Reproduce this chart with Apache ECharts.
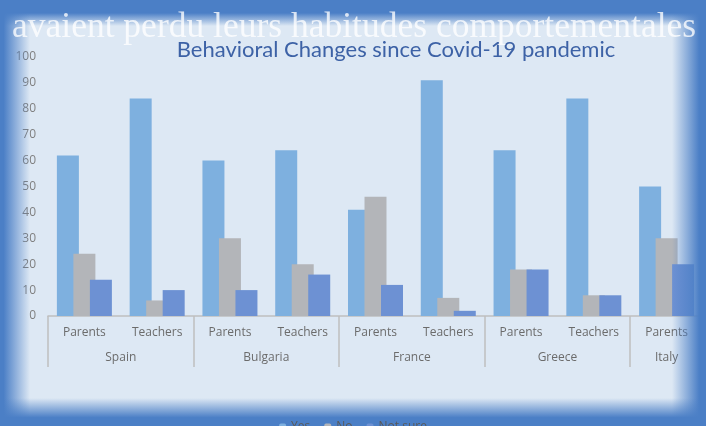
<!DOCTYPE html>
<html><head><meta charset="utf-8">
<script src="https://cdn.jsdelivr.net/npm/echarts@6/dist/echarts.min.js"></script>
<style>html,body{margin:0;padding:0;background:#dde8f4;overflow:hidden}#c{width:706px;height:426px}</style>
</head><body><div id="c"></div>
<script>
const categories = ['Parents','Teachers','Parents','Teachers','Parents','Teachers','Parents','Teachers','Parents'];
const countries = ['Spain','Bulgaria','France','Greece','Italy'];
const countrySizes = [2,2,2,2,1];
const yesValues = [62,84,60,64,41,91,64,84,50];
const noValues = [24,6,30,20,46,7,18,8,30];
const notSureValues = [14,10,10,16,12,2,18,8,20];
const seriesNames = ['Yes','No','Not sure'];
const yTicks = [0,10,20,30,40,50,60,70,80,90,100];

// build half-slot axis for group labels
const slots = new Array(categories.length*2+1).fill('');
const bounds = [0];
let s = 0;
countries.forEach((c,i)=>{ slots[s*2+countrySizes[i]] = c; s += countrySizes[i]; bounds.push(s*2); });

const blue = '#4b7fc6';
const clear = 'rgba(75,127,198,0)';
const chart = echarts.init(document.getElementById('c'));
chart.setOption({
  backgroundColor:'#dde8f4',
  animation:false,
  title:{text:'Behavioral Changes since Covid-19 pandemic',left:391,textAlign:'center',top:34,
    textStyle:{color:'#3d62a6',fontFamily:'Lato',fontWeight:'normal',fontSize:22}},
  legend:{data:seriesNames,left:'center',top:416,itemWidth:7,itemHeight:7,itemGap:14,z:80,
    textStyle:{color:'#595959',fontSize:12,fontFamily:'Open Sans'}},
  grid:{left:48,right:-2,top:57,bottom:110},
  yAxis:{type:'value',min:yTicks[0],max:yTicks[yTicks.length-1],interval:10,
    axisLine:{show:false},axisTick:{show:false},splitLine:{show:false},
    axisLabel:{color:'#7f7f7f',fontSize:12,margin:12,fontFamily:'Open Sans'}},
  xAxis:[
    {type:'category',data:categories,position:'bottom',
     axisLine:{show:true,lineStyle:{color:'#bfbfbf',width:1.5}},axisTick:{show:false},
     axisLabel:{color:'#6b6b6b',fontSize:12,margin:11,interval:0,fontFamily:'Open Sans'}},
    {type:'category',data:slots,position:'bottom',offset:0,boundaryGap:false,
     axisLine:{show:false},
     axisTick:{show:true,length:51,interval:(i)=>bounds.includes(i),lineStyle:{color:'#bfbfbf',width:1.5}},
     axisLabel:{color:'#6b6b6b',fontSize:12,margin:36,interval:0,fontFamily:'Open Sans'}}
  ],
  series:[
    {name:seriesNames[0],type:'bar',data:yesValues,barWidth:22,barGap:'-25%',itemStyle:{color:'#7eb0df'}},
    {name:seriesNames[1],type:'bar',data:noValues,barWidth:22,barGap:'-25%',itemStyle:{color:'#b3b5b9'}},
    {name:seriesNames[2],type:'bar',data:notSureValues,barWidth:22,barGap:'-25%',itemStyle:{color:'#6d91d3'}}
  ],
  graphic:[
    {type:'rect',silent:true,z:50,shape:{x:0,y:0,width:706,height:26},
     style:{fill:{type:'linear',x:0,y:0,x2:0,y2:1,colorStops:[{offset:0,color:blue},{offset:0.5,color:blue},{offset:1,color:clear}]}}},
    {type:'rect',silent:true,z:50,shape:{x:0,y:0,width:30,height:426},
     style:{fill:{type:'linear',x:0,y:0,x2:1,y2:0,colorStops:[{offset:0,color:blue},{offset:0.12,color:blue},{offset:1,color:clear}]}}},
    {type:'rect',silent:true,z:50,shape:{x:672,y:0,width:34,height:426},
     style:{fill:{type:'linear',x:0,y:0,x2:1,y2:0,colorStops:[{offset:0,color:clear},{offset:0.8,color:blue},{offset:1,color:blue}]}}},
    {type:'rect',silent:true,z:50,shape:{x:0,y:398,width:706,height:28},
     style:{fill:{type:'linear',x:0,y:0,x2:0,y2:1,colorStops:[{offset:0,color:clear},{offset:0.7,color:blue},{offset:1,color:blue}]}}},
    {type:'text',silent:true,z:90,left:12,top:10,
     style:{text:'avaient perdu leurs habitudes comportementales',fill:'rgba(255,255,255,0.78)',
       font:'35.5px "Liberation Serif"'}}
  ]
});
</script></body></html>
